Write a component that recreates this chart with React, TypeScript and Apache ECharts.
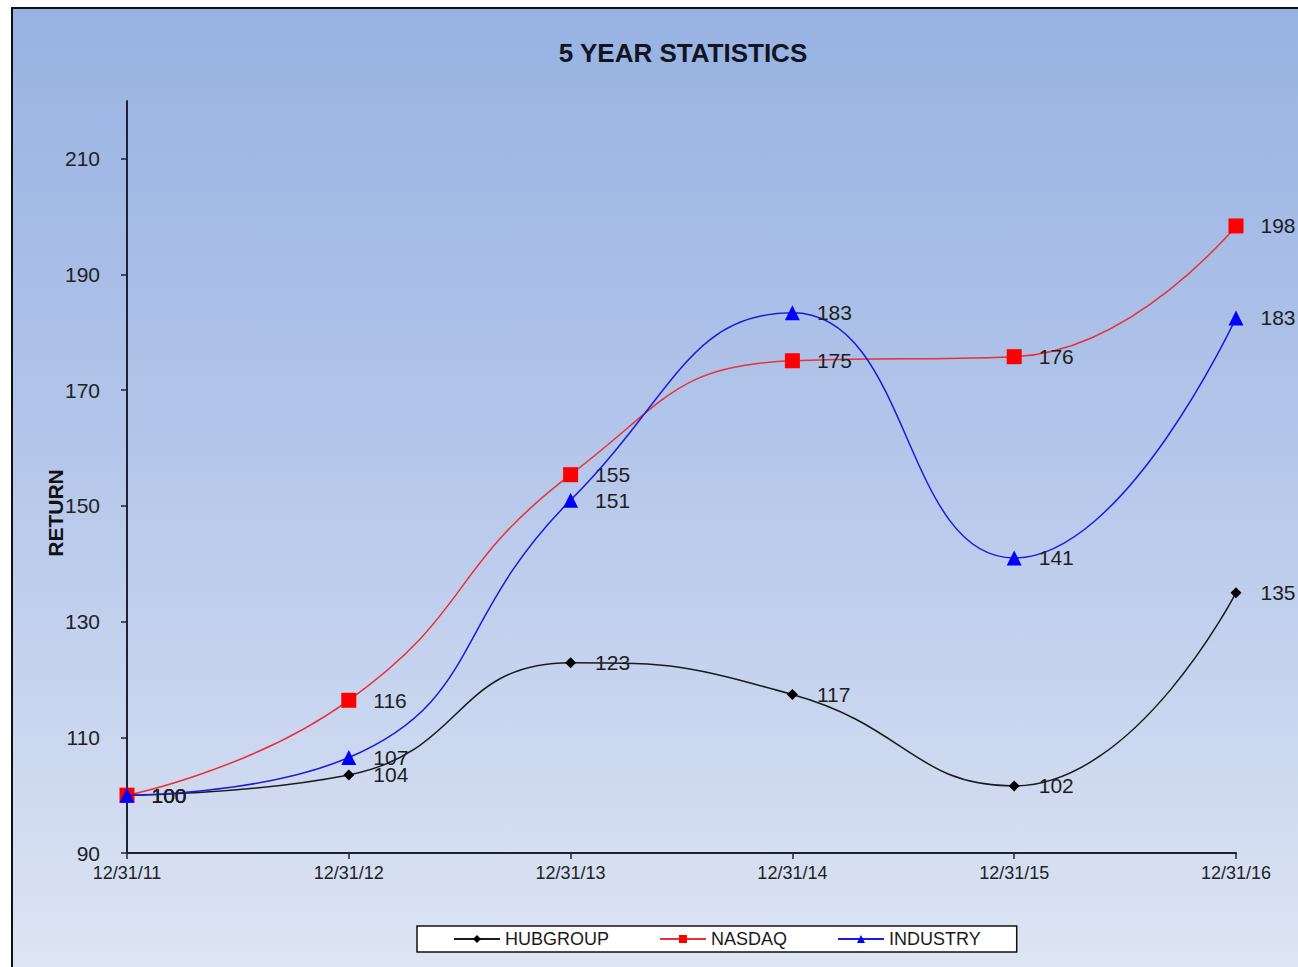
import React, { useEffect, useRef } from "react";
import * as echarts from "echarts";

const categories = ["12/31/11", "12/31/12", "12/31/13", "12/31/14", "12/31/15", "12/31/16"];
const hubgroup = [100, 103.5, 122.9, 117.4, 101.6, 135];
const nasdaq = [100, 116.4, 155.4, 175.1, 175.8, 198.4];
const industry = [100, 106.5, 151, 183.4, 141, 182.5];
const yTicks = { min: 90, max: 220, interval: 20 };
const yAxisTitle = "RETURN";

const FONT = "'Liberation Sans', Arial, sans-serif";

export default function App() {
  const ref = useRef<HTMLDivElement>(null);
  useEffect(() => {
    if (!ref.current) return;
    const chart = echarts.init(ref.current, undefined, { renderer: "svg" });
    const label = (dist: number) => ({
      show: true,
      position: "right",
      distance: dist,
      fontFamily: FONT,
      fontSize: 21,
      color: "#1e1e1e",
      formatter: (p: any) => String(Math.round(p.value)),
    });
    chart.setOption({
      animation: false,
      backgroundColor: "transparent",
      title: {
        text: "5 YEAR STATISTICS",
        left: 678,
        top: 35,
        textAlign: "center",
        textStyle: { fontFamily: FONT, fontSize: 26, fontWeight: "bold", color: "#111522" },
      },
      graphic: [
        {
          type: "text",
          x: 55,
          y: 513,
          rotation: Math.PI / 2,
          style: {
            text: yAxisTitle,
            align: "center",
            verticalAlign: "middle",
            fontFamily: FONT,
            fontSize: 21,
            fontWeight: "bold",
            fill: "#111",
          },
        },
      ],
      grid: { left: 127, right: 62, top: 101, bottom: 114 },
      legend: {
        left: 417,
        top: 926,
        backgroundColor: "#ffffff",
        borderColor: "#111",
        borderWidth: 1.5,
        padding: [4, 36, 4, 36],
        itemGap: 50,
        itemWidth: 46,
        itemHeight: 10,
        textStyle: { fontFamily: FONT, fontSize: 18, color: "#1a1a1a" },
        data: ["HUBGROUP", "NASDAQ", "INDUSTRY"],
      },
      xAxis: {
        type: "category",
        data: categories,
        boundaryGap: false,
        axisLine: { lineStyle: { color: "#1f2233", width: 2 } },
        axisTick: { show: true, length: 6, lineStyle: { color: "#1f2233", width: 1.5 } },
        axisLabel: { fontFamily: FONT, fontSize: 18, color: "#222", margin: 11 },
      },
      yAxis: {
        type: "value",
        min: yTicks.min,
        max: yTicks.max,
        interval: yTicks.interval,
        splitLine: { show: false },
        axisLine: { show: true, lineStyle: { color: "#1f2233", width: 2 } },
        axisTick: { show: true, length: 6, lineStyle: { color: "#1f2233", width: 1.5 } },
        axisLabel: { fontFamily: FONT, fontSize: 21, color: "#222", margin: 27, showMaxLabel: false },
      },
      series: [
        {
          name: "HUBGROUP",
          type: "line",
          data: hubgroup,
          smooth: 0.5,
          symbol: "diamond",
          symbolSize: 11,
          lineStyle: { color: "#1a1a1a", width: 1.5 },
          itemStyle: { color: "#000000" },
          label: label(19),
          z: 3,
        },
        {
          name: "NASDAQ",
          type: "line",
          data: nasdaq,
          smooth: 0.5,
          symbol: "rect",
          symbolSize: 15,
          lineStyle: { color: "#e8303a", width: 1.5 },
          itemStyle: { color: "#ff0000" },
          label: label(17),
          z: 4,
        },
        {
          name: "INDUSTRY",
          type: "line",
          data: industry,
          smooth: 0.5,
          symbol: "triangle",
          symbolSize: 15,
          lineStyle: { color: "#1c1cd8", width: 1.5 },
          itemStyle: { color: "#0000ff" },
          label: label(17),
          z: 5,
        },
      ],
    });
    return () => chart.dispose();
  }, []);
  return (
    <div style={{ position: "fixed", left: 0, top: 0, width: 1298, height: 967, background: "#ffffff", overflow: "hidden" }}>
      <div
        style={{
          position: "absolute",
          left: 11,
          top: 7,
          width: 1300,
          height: 980,
          borderLeft: "2px solid #111",
          borderTop: "2px solid #111",
          background: "linear-gradient(180deg, #97b2e2 0%, #b4c6ea 45%, #dfe6f4 100%)",
        }}
      />
      <div ref={ref} style={{ position: "absolute", left: 0, top: 0, width: 1298, height: 967 }} />
    </div>
  );
}
